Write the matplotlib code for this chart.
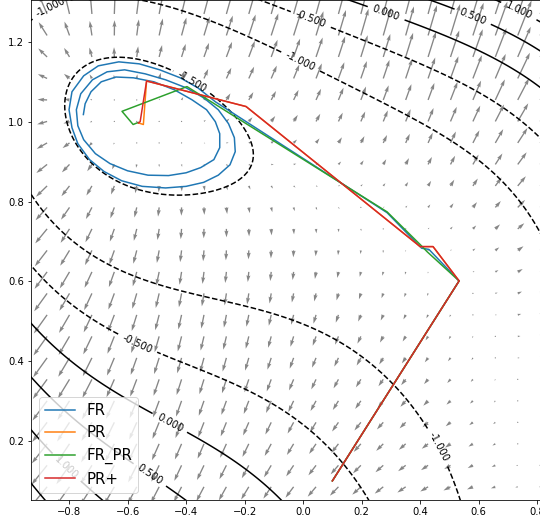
"""
Conjugate gradient paths (FR / PR / FR_PR / PR+) over a contour + gradient field
"""
import numpy as np
import matplotlib
matplotlib.use('Agg')
import matplotlib.pyplot as plt

# surface: quartic polynomial in (x, y) with a soft floor at the bottom of the basin
# order: 1, x, y, x^2, xy, y^2, x^3, x^2y, xy^2, y^3, x^4, x^3y, x^2y^2, xy^3, y^4
poly_coef = [-0.0197, -1.76469, -1.93281,
             -0.33315, 2.42672, -0.26159,
             0.1488, 0.38502, 0.09333, -0.26687,
             0.84407, -0.28892, 0.01281, 0.03958, 1.1443]
floor_level = -1.6
floor_soft = 0.04
levels = [-1.5, -1.0, -0.5, 0.0, 0.5, 1.0, 1.5]

# optimiser paths
fr_x = [0.1, 0.533, 0.43, 0.405, 0.287, -0.30, -0.36, -0.42, -0.49, -0.56, -0.63, -0.70, -0.75, -0.79,
        -0.80, -0.79, -0.77, -0.73, -0.68, -0.62, -0.55, -0.47, -0.40, -0.34, -0.29, -0.25, -0.232,
        -0.235, -0.255, -0.29,
        -0.34, -0.40, -0.47, -0.54, -0.61, -0.67, -0.72, -0.76, -0.775, -0.77, -0.75, -0.71, -0.66,
        -0.60, -0.53, -0.46, -0.40, -0.35, -0.305, -0.285, -0.285, -0.30, -0.33,
        -0.38, -0.44, -0.51, -0.58, -0.64, -0.69, -0.725, -0.745, -0.751]
fr_y = [0.1, 0.601, 0.68, 0.683, 0.772, 1.05, 1.085, 1.11, 1.13, 1.145, 1.15, 1.14, 1.115, 1.075,
        1.03, 0.985, 0.945, 0.905, 0.875, 0.852, 0.838, 0.834, 0.838, 0.848, 0.866, 0.892, 0.925,
        0.96, 0.995, 1.03,
        1.06, 1.085, 1.105, 1.12, 1.13, 1.125, 1.105, 1.07, 1.03, 0.99, 0.955, 0.92, 0.895,
        0.877, 0.866, 0.865, 0.872, 0.885, 0.905, 0.935, 0.97, 1.0, 1.03,
        1.055, 1.08, 1.10, 1.11, 1.112, 1.10, 1.075, 1.045, 1.018]
pr_x = [0.1, 0.533, 0.444, 0.40, -0.195, -0.535, -0.546, -0.563]
pr_y = [0.1, 0.601, 0.687, 0.687, 1.038, 1.102, 0.993, 0.997]
frpr_x = [0.1, 0.533, 0.424, 0.407, 0.287, -0.397, -0.619, -0.581, -0.564]
frpr_y = [0.1, 0.601, 0.674, 0.687, 0.774, 1.088, 1.026, 0.993, 0.998]
prp_x = [0.1, 0.533, 0.444, 0.40, -0.195, -0.535, -0.557, -0.563]
prp_y = [0.1, 0.601, 0.687, 0.687, 1.038, 1.102, 1.0, 0.997]

# where the contour labels go
label_pos = [(-0.865, 1.289), (0.024, 1.252), (-0.010, 1.149), (0.28, 1.264), (0.58, 1.264),
             (0.735, 1.274), (-0.38, 1.10), (-0.568, 0.441), (-0.455, 0.246), (-0.523, 0.116),
             (-0.807, 0.135), (0.445, 0.178)]


def func(x, y):
    terms = []
    for d in range(5):
        for i in range(d + 1):
            terms.append(x ** (d - i) * y ** i)
    p = sum(c * t for c, t in zip(poly_coef, terms))
    return floor_level + floor_soft * np.logaddexp(0, (p - floor_level) / floor_soft)


def grad(x, y, h=1e-4):
    gx = (func(x + h, y) - func(x - h, y)) / (2 * h)
    gy = (func(x, y + h) - func(x, y - h)) / (2 * h)
    return gx, gy


fig = plt.figure(figsize=(540 / 72, 525 / 72), dpi=72)
ax = fig.add_axes([31 / 540, 25 / 525, 515 / 540, 500 / 525])

# gradient field
qx, qy = np.meshgrid(np.linspace(-0.875, 0.81, 23), np.linspace(0.085, 1.27, 23))
u, v = grad(qx, qy)
ax.quiver(qx, qy, u, v, color='gray', alpha=0.95)

# contours
cx, cy = np.meshgrid(np.linspace(-0.95, 0.85, 200), np.linspace(0.03, 1.32, 200))
cs = ax.contour(cx, cy, func(cx, cy), levels=levels, colors='k')
ax.clabel(cs, fmt='%1.3f', fontsize=10, manual=label_pos)

# paths
ax.plot(fr_x, fr_y, label='FR')
ax.plot(pr_x, pr_y, label='PR')
ax.plot(frpr_x, frpr_y, label='FR_PR')
ax.plot(prp_x, prp_y, label='PR+')
ax.legend(loc='lower left', fontsize=15)

ax.set_xlim(-0.93, 0.83)
ax.set_ylim(0.052, 1.305)
fig.savefig('out.png')
